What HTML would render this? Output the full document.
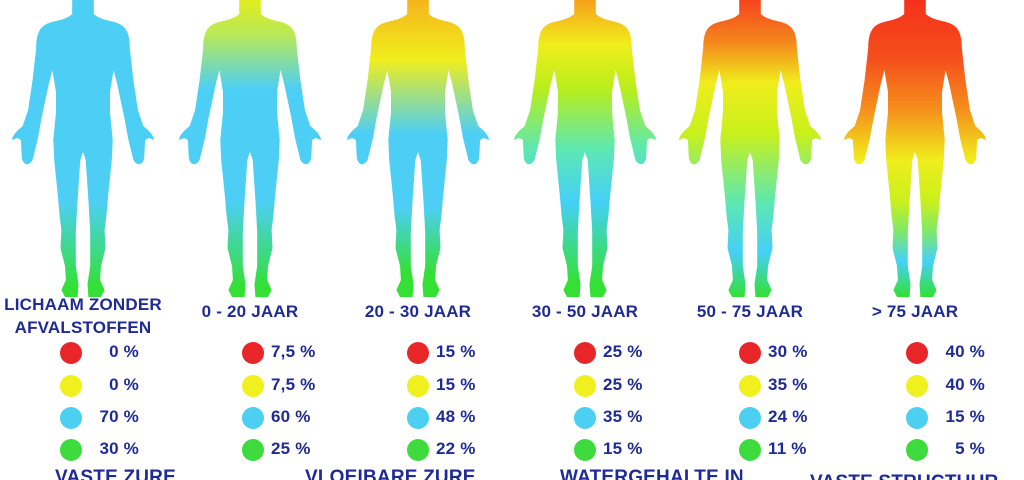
<!DOCTYPE html>
<html><head><meta charset="utf-8">
<style>
html,body{margin:0;padding:0;background:#fff;}
#wrap{position:relative;width:1024px;height:480px;overflow:hidden;background:#fff;font-family:"Liberation Sans",sans-serif;color:#1f2b94;}
.t{position:absolute;font-size:17px;font-weight:bold;white-space:nowrap;letter-spacing:0.2px;}
.lab{text-align:center;transform:translateX(-50%);}
.dot{position:absolute;width:22px;height:22px;border-radius:50%;}
</style></head>
<body>
<div id="wrap">
<svg id="svg" width="1024" height="480" style="position:absolute;left:0;top:0">
<defs id="defs">
<path id="body" d="M-12,0 L12,0 L12,14 C22,22 36,20 44,26 C50,30 52,38 52,48 L56,80 L61,110 L67,126 C72,130 78,134 79,140 L73,138 L69,140 L68,158 C66,166 60,166 56,160 L50,138 L46,118 L38,84 L34,70 L30,92 L30,112 L33,140 L32,160 L28,195 L26,216 L24,230 L25,248 L20,266 L19,280 L24,290 L20,297 L6,297 L5,284 L8,266 L8,232 L6,200 L3,160 L0,152 L-3,160 L-6,200 L-8,232 L-8,266 L-5,284 L-6,297 L-20,297 L-24,290 L-19,280 L-20,266 L-25,248 L-24,230 L-26,216 L-28,195 L-32,160 L-33,140 L-30,112 L-30,92 L-34,70 L-38,84 L-46,118 L-50,138 L-56,160 C-60,166 -66,166 -68,158 L-69,140 L-73,138 L-79,140 C-78,134 -72,130 -67,126 L-61,110 L-56,80 L-52,48 C-52,38 -50,30 -44,26 C-36,20 -22,22 -12,14 Z"/>
</defs>
</svg>
</div>
<script>
const categories=["LICHAAM ZONDER|AFVALSTOFFEN","0 - 20 JAAR","20 - 30 JAAR","30 - 50 JAAR","50 - 75 JAAR","> 75 JAAR"];
const vasteZure=["0 %","7,5 %","15 %","25 %","30 %","40 %"];
const vloeibareZure=["0 %","7,5 %","15 %","25 %","35 %","40 %"];
const water=["70 %","60 %","48 %","35 %","24 %","15 %"];
const structuur=["30 %","25 %","22 %","15 %","11 %","5 %"];
const legendLabels=["VASTE ZURE","VLOEIBARE ZURE","WATERGEHALTE IN","VASTE STRUCTUUR"];
const gradients=[
 [[0,"#4dcff5"],[0.68,"#4dcff5"],[0.97,"#33e033"]],
 [[0,"#e0ee1c"],[0.12,"#b8e85a"],[0.3,"#4dcff5"],[0.68,"#4dcff5"],[0.97,"#33e033"]],
 [[0,"#f5b41c"],[0.2,"#f0ee1c"],[0.45,"#4dcff5"],[0.7,"#4dcff5"],[0.92,"#33e033"]],
 [[0,"#f7a01c"],[0.15,"#f0ee1c"],[0.3,"#b8ee1c"],[0.5,"#5ee8b0"],[0.68,"#45d0f8"],[0.95,"#33e033"]],
 [[0,"#f5441c"],[0.14,"#f5861c"],[0.28,"#f0ee1c"],[0.45,"#c8f01c"],[0.68,"#5ee8b0"],[0.85,"#45d0f8"],[1,"#33e033"]],
 [[0,"#f5301c"],[0.2,"#f5501c"],[0.37,"#f5901c"],[0.54,"#f0ee1c"],[0.68,"#c8f01c"],[0.78,"#7ee86a"],[0.88,"#45d0f8"],[1,"#33e033"]]
];
const centers=[83,250,418,585,750,915];
const dotX=[71,253,418,585,750,917];
const rowY=[353,386,418,450];
const colors=["#e8262a","#f0f01e","#4dcff2","#3ddb3d"];
const svg=document.getElementById('svg'),defs=document.getElementById('defs'),wrap=document.getElementById('wrap');
const NS="http://www.w3.org/2000/svg";
centers.forEach((cx,i)=>{
 const g=document.createElementNS(NS,'linearGradient');
 g.setAttribute('id','g'+i);g.setAttribute('x1','0');g.setAttribute('y1','0');g.setAttribute('x2','0');g.setAttribute('y2','1');
 gradients[i].forEach(s=>{const st=document.createElementNS(NS,'stop');st.setAttribute('offset',s[0]);st.setAttribute('stop-color',s[1]);g.appendChild(st);});
 defs.appendChild(g);
 const u=document.createElementNS(NS,'use');
 u.setAttribute('href','#body');u.setAttribute('transform','translate('+cx+',0) scale(0.9,1)');u.setAttribute('fill','url(#g'+i+')');
 
 
 svg.appendChild(u);
 const parts=categories[i].split('|');
 parts.forEach((p,k)=>{
  const d=document.createElement('div');d.className='t lab';
  d.style.left=cx+'px';d.style.top=(parts.length>1?(295+k*23):302)+'px';d.textContent=p;
  
  
  wrap.appendChild(d);
 });
 const vals=[vasteZure[i],vloeibareZure[i],water[i],structuur[i]];
 vals.forEach((v,r)=>{
  const dot=document.createElement('div');dot.className='dot';
  dot.style.left=(dotX[i]-11)+'px';dot.style.top=(rowY[r]-11)+'px';dot.style.background=colors[r];
  
  
  wrap.appendChild(dot);
  const t=document.createElement('div');t.className='t';
  t.style.left=(dotX[i]+18)+'px';t.style.top=(rowY[r]-11)+'px';t.style.width='50px';
  t.style.textAlign=(i==0||i==5)?'right':'left';
  t.textContent=v;
  
  
  wrap.appendChild(t);
 });
});
const legX=[55,305,560,810];
legendLabels.forEach((l,i)=>{
 const d=document.createElement('div');d.className='t';d.style.fontSize='19px';
 d.style.left=legX[i]+'px';d.style.top=(i==3?472:467)+'px';d.textContent=l;
 
 
 wrap.appendChild(d);
});
</script>
</body></html>
